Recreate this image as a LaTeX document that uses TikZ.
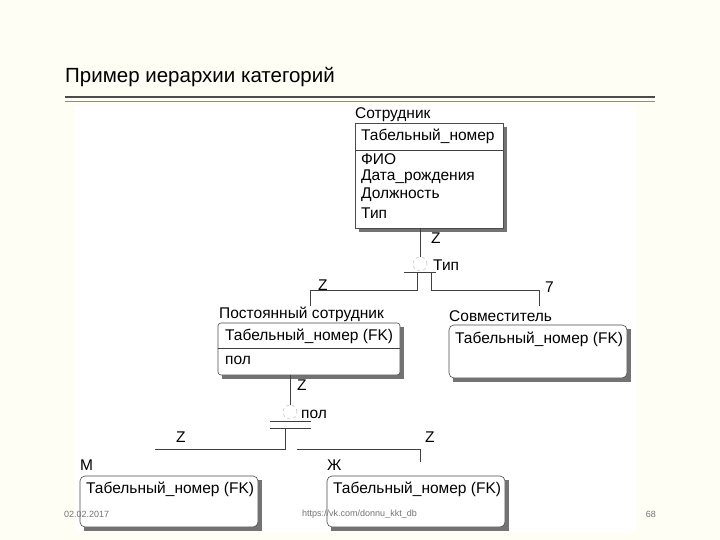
\documentclass[tikz,border=0pt]{standalone}
\usepackage{fontspec}
\setmainfont{Liberation Sans}
\begin{document}
\begin{tikzpicture}[x=1pt,y=-1pt,
  lbl/.style={anchor=west,inner sep=0pt,font=\fontsize{15.5}{15.5}\selectfont},
  ent/.style={draw=black!70,fill=white,line width=0.6pt},
  shad/.style={fill=black!55},
  ln/.style={draw=black!75,line width=0.6pt},
  foot/.style={inner sep=0pt,font=\fontsize{9}{9}\selectfont,text=black!55}]
\fill[yellow!4] (0,0) rectangle (720,540);
\useasboundingbox (0,0) rectangle (720,540);
\fill[white] (75,106) rectangle (636,532);
\node[anchor=west,inner sep=0pt,font=\fontsize{20.5}{20.5}\selectfont] (title) at (65,77) {Пример иерархии категорий};
\draw[black!70,line width=1.2pt] (65,97) -- (655,97);
\draw[black!45,line width=0.8pt] (65,101) -- (655,101);
% Сотрудник
\fill[shad] (359,127) rectangle (507,232);
\draw[ent] (355,123) rectangle (503,228);
\draw[ln] (355,150) -- (503,150);
\node[lbl] (s0) at (355,115) {Сотрудник};
\node[lbl] (s1) at (361,136) {Табельный\_номер};
\node[lbl] (s2) at (361,159) {ФИО};
\node[lbl] (s3) at (361,177) {Дата\_рождения};
\node[lbl] (s4) at (361,195) {Должность};
\node[lbl] (s5) at (361,213) {Тип};
\coordinate (sb) at (420,228);
% discriminator 1
\node[circle,draw=black!30,dashed,minimum size=14pt,inner sep=0pt] (c1) at (420,264) {};
\draw[ln] (sb) -- (c1.north);
\node[lbl] (z1) at (431,238) {Z};
\node[lbl] (t1) at (433,265) {Тип};
\draw[ln] (404,272) -- (436,272);
\coordinate (a1) at (417,272); \coordinate (b1) at (431,272);
\coordinate (pl) at (310,306); \coordinate (pr) at (539,306);
\draw[ln] (a1) -- (417,290) -- (310,290) -- (pl);
\draw[ln] (b1) -- (431,290) -- (539,290) -- (pr);
\node[lbl] (z2) at (318,285) {Z};
\node[lbl] (z3) at (545,287) {7};
% Постоянный сотрудник
\fill[shad] (222,327) rectangle (404,379);
\draw[ent,rounded corners=3pt] (218,323) rectangle (400,375);
\draw[ln] (218,348) -- (400,348);
\node[lbl] (p0) at (219,314) {Постоянный сотрудник};
\node[lbl] (p1) at (225,336) {Табельный\_номер (FK)};
\node[lbl] (p2) at (225,360) {пол};
% Совместитель
\fill[shad] (453,329) rectangle (631,382);
\draw[ent,rounded corners=5pt] (449,325) rectangle (627,378);
\node[lbl] (v0) at (449,316) {Совместитель};
\node[lbl] (v1) at (455,339) {Табельный\_номер (FK)};
% discriminator 2
\node[circle,draw=black!30,dashed,minimum size=14pt,inner sep=0pt] (c2) at (290,412) {};
\draw[ln] (290,375) -- (c2.north);
\node[lbl] (z4) at (297,385) {Z};
\node[lbl] (t2) at (301,414) {пол};
\draw[ln] (270,421) -- (311,421);
\draw[ln] (270,428) -- (311,428);
\draw[ln] (285,428) -- (285,449) -- (155,449);
\draw[ln] (297,449) -- (420,449) -- (420,462);
\node[lbl] (z5) at (176,437) {Z};
\node[lbl] (z6) at (425,437) {Z};
% М
\fill[shad] (84,480) rectangle (262,531);
\draw[ent,rounded corners=5pt] (80,476) rectangle (258,527);
\node[lbl] (m0) at (80,465) {М};
\node[lbl] (m1) at (86,489) {Табельный\_номер (FK)};
% Ж
\fill[shad] (331,480) rectangle (509,531);
\draw[ent,rounded corners=5pt] (327,476) rectangle (505,527);
\node[lbl] (w0) at (327,465) {Ж};
\node[lbl] (w1) at (333,489) {Табельный\_номер (FK)};
% footer
\node[foot,anchor=west] (f1) at (64,514) {02.02.2017};
\node[foot,anchor=west] (f2) at (302,514) {https://vk.com/donnu\_kkt\_db};
\node[foot,anchor=east] (f3) at (656,514) {68};
\end{tikzpicture}
\end{document}
